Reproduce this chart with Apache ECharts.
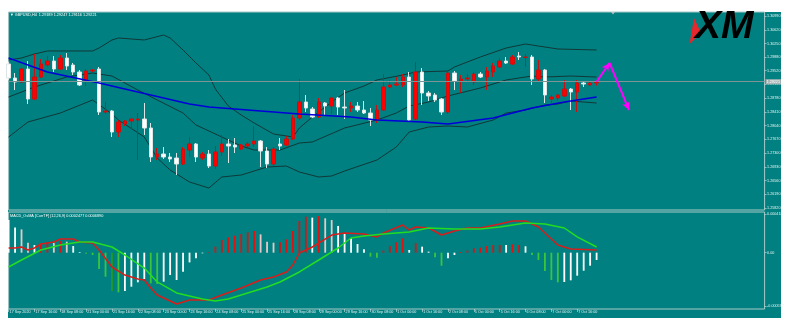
<!DOCTYPE html>
<html><head><meta charset="utf-8">
<script src="https://cdn.jsdelivr.net/npm/echarts@6/dist/echarts.min.js"></script>
<style>html,body{margin:0;padding:0;background:#fff}#c{width:790px;height:330px}</style>
</head><body><div id="c"></div><script>
// ---- categories (H4 bars) ----
const days = ['17 Sep','18 Sep','21 Sep','22 Sep','23 Sep','24 Sep','25 Sep','28 Sep','29 Sep','30 Sep','1 Oct','2 Oct','5 Oct','6 Oct','7 Oct','8 Oct'];
const hours = ['00:00','04:00','08:00','12:00','16:00','20:00'];
const totalSlots = 118;

// ---- candles: [open, close, low, high] ----
const candles = [
[1.29698,1.29320,1.29267,1.29751],[1.29320,1.29213,1.28997,1.29455],[1.29213,1.29563,1.29186,1.29590],[1.29563,1.28755,1.28620,1.29778],
[1.28755,1.29347,1.28728,1.29967],[1.29347,1.29698,1.29320,1.29832],[1.29671,1.29778,1.29617,1.29913],[1.29778,1.29563,1.29482,1.29913],
[1.29563,1.29859,1.29536,1.29940],[1.29859,1.29644,1.29536,1.29994],[1.29671,1.29482,1.29401,1.29725],[1.29482,1.29132,1.29105,1.29536],
[1.29240,1.29509,1.29105,1.29563],[1.29509,1.29536,1.29482,1.29563],[1.29563,1.28405,1.28324,1.29617],[1.28405,1.28432,1.28351,1.28674],
[1.28432,1.27866,1.27732,1.28459],[1.27866,1.28136,1.27732,1.28189],[1.28082,1.28163,1.28028,1.28189],[1.28163,1.28216,1.27947,1.28243],
[1.28189,1.28216,1.27112,1.28378],[1.28216,1.27974,1.27785,1.28647],[1.27974,1.27193,1.27058,1.28109],[1.27193,1.27274,1.27112,1.27435],
[1.27274,1.27193,1.27139,1.27462],[1.27193,1.27139,1.27058,1.27301],[1.27166,1.27004,1.26708,1.27301],[1.27004,1.27408,1.26977,1.27462],
[1.27381,1.27543,1.27193,1.27732],[1.27543,1.27193,1.27058,1.27570],[1.27166,1.27274,1.27112,1.27328],[1.27274,1.26950,1.26897,1.27381],
[1.26950,1.27328,1.26870,1.27489],[1.27328,1.27543,1.27220,1.27785],[1.27543,1.27489,1.27031,1.27678],[1.27516,1.27462,1.27301,1.27705],
[1.27408,1.27516,1.27381,1.27543],[1.27489,1.27543,1.27462,1.27597],[1.27543,1.27624,1.27462,1.28028],[1.27624,1.27355,1.26924,1.27651],
[1.27355,1.27004,1.26897,1.27462],[1.27004,1.27408,1.26950,1.27462],[1.27543,1.27489,1.27381,1.27705],[1.27516,1.27678,1.27489,1.27759],
[1.27678,1.28243,1.27651,1.28324],[1.28243,1.28674,1.28189,1.29294],[1.28674,1.28513,1.28405,1.28863],[1.28486,1.28270,1.28243,1.28539],
[1.28270,1.28674,1.28243,1.28782],[1.28647,1.28566,1.28324,1.28674],[1.28566,1.28782,1.28351,1.28809],[1.28782,1.28539,1.28324,1.28809],
[1.28539,1.28513,1.28216,1.28997],[1.28513,1.28566,1.28405,1.28674],[1.28566,1.28459,1.28405,1.28674],[1.28459,1.28378,1.28351,1.28701],
[1.28378,1.28189,1.28028,1.28513],[1.28189,1.28459,1.28109,1.28593],[1.28459,1.29078,1.28432,1.29428],[1.29078,1.29132,1.29051,1.29267],
[1.29132,1.29159,1.29105,1.29347],[1.29132,1.29347,1.29078,1.29428],[1.29347,1.28189,1.28136,1.29482],[1.28216,1.29482,1.28189,1.29751],
[1.29482,1.28917,1.28593,1.29590],[1.28917,1.28836,1.28701,1.28970],[1.28863,1.28728,1.28674,1.28917],[1.28755,1.28405,1.28324,1.28782],
[1.28405,1.29455,1.28351,1.29482],[1.29455,1.29240,1.28997,1.29509],[1.29240,1.29294,1.28917,1.29401],[1.29294,1.29320,1.29240,1.29428],
[1.29213,1.29428,1.29132,1.29482],[1.29428,1.29347,1.29320,1.29482],[1.29347,1.29509,1.28997,1.29617],[1.29482,1.29644,1.29347,1.29725],
[1.29617,1.29778,1.29590,1.29859],[1.29778,1.29725,1.29698,1.29886],[1.29698,1.29886,1.29671,1.29940],[1.29913,1.29886,1.29805,1.30021],
[1.29872,1.29886,1.29617,1.29967],[1.29886,1.29294,1.29132,1.29940],[1.29294,1.29536,1.29213,1.29805],[1.29536,1.28863,1.28647,1.29563],
[1.28755,1.28809,1.28647,1.28863],[1.28782,1.28863,1.28701,1.28890],[1.28836,1.29024,1.28809,1.29267],[1.29024,1.28944,1.28459,1.29051],
[1.28944,1.29186,1.28405,1.29267],[1.29186,1.29159,1.29078,1.29240],[1.29132,1.29186,1.29105,1.29240],[1.29189,1.29221,1.29116,1.29247]
];

// ---- Bollinger bands & MA: [barIndex, price] ----
const bbUpper = [[0,1.29805],[2,1.29859],[4,1.29967],[6,1.30048],[9,1.30048],[13,1.30048],[14,1.30128],[16,1.30344],[17,1.30398],[21,1.30344],[24,1.30479],[25,1.30398],[27,1.30075],[29,1.29725],[31,1.29401],[32,1.29024],[34,1.28566],[36,1.28324],[38,1.28109],[41,1.27812],[44,1.27732],[45,1.27974],[47,1.28270],[50,1.28674],[52,1.28917],[55,1.29105],[57,1.29267],[61,1.29401],[63,1.29482],[68,1.29509],[69,1.29617],[73,1.29886],[77,1.30128],[80,1.30236],[82,1.30182],[85,1.30102],[91,1.30075]];
const bbMiddle = [[0,1.28809],[4,1.29078],[9,1.29347],[13,1.29455],[16,1.29374],[20,1.28997],[23,1.28728],[27,1.28378],[29,1.28055],[33,1.27732],[36,1.27489],[38,1.27381],[42,1.27381],[45,1.27570],[47,1.27597],[52,1.27974],[57,1.28189],[60,1.28378],[62,1.28566],[65,1.28674],[68,1.28836],[73,1.29051],[77,1.29267],[81,1.29374],[83,1.29347],[87,1.29374],[91,1.29347]];
const bbLower = [[0,1.27732],[3,1.28136],[8,1.28378],[13,1.28728],[16,1.28351],[17,1.28189],[21,1.27732],[23,1.27166],[25,1.26843],[28,1.26520],[31,1.26358],[33,1.26655],[36,1.26708],[40,1.26924],[43,1.26950],[45,1.26789],[48,1.26655],[50,1.26682],[52,1.26816],[57,1.27112],[60,1.27462],[62,1.27866],[65,1.28001],[68,1.28028],[71,1.28001],[75,1.28189],[77,1.28378],[80,1.28459],[83,1.28593],[85,1.28620],[87,1.28701],[91,1.28647]];
const maBlue = [[0,1.29859],[6,1.29482],[14,1.29186],[22,1.28863],[28,1.28620],[31,1.28539],[37,1.28459],[45,1.28351],[53,1.28270],[57,1.28189],[64,1.28136],[68,1.28082],[75,1.28243],[81,1.28513],[86,1.28674],[91,1.28809]];

// ---- MACD / OsMA ----
const osma = [0.000354,0.000271,0.000252,0.000108,0.000083,0.000090,0.000108,0.000108,0.000126,0.000119,0.000072,0.000007,-0.000011,-0.000025,-0.000177,-0.000260,-0.000415,-0.000429,-0.000415,-0.000368,-0.000321,-0.000285,-0.000332,-0.000339,-0.000314,-0.000242,-0.000296,-0.000206,-0.000105,-0.000061,-0.000007,0.000004,0.000065,0.000137,0.000166,0.000184,0.000202,0.000220,0.000234,0.000198,0.000119,0.000108,0.000112,0.000144,0.000234,0.000343,0.000390,0.000379,0.000397,0.000372,0.000353,0.000289,0.000209,0.000155,0.000094,0.000036,-0.000043,-0.000054,0.000022,0.000072,0.000112,0.000155,0.000029,0.000101,0.000065,0.000011,-0.000050,-0.000141,-0.000061,-0.000025,0.000007,0.000022,0.000047,0.000054,0.000072,0.000083,0.000083,0.000083,0.000090,0.000083,0.000069,-0.000025,-0.000079,-0.000198,-0.000296,-0.000321,-0.000317,-0.000299,-0.000249,-0.000195,-0.000141,-0.000079];
const osmaColorKeys = 'wwppwrrprpww' + 'ggggdg' + 'wwww' + 'gg' + 'wwwwwww' + 'rrrrrrrr' + 'ppp' + 'rrrrr' + 'w' + 'r' + 'pp' + 'wwwww' + 'gg' + 'rrrr' + 'w' + 'r' + 'ww' + 'gg' + 'ww' + 'rrrrrrr' + 'w' + 'rr' + 'w' + 'ggggg' + 'wwwwww';
const macdRed = [[0,0.0000505],[1,0.0000505],[2,0.0000613],[3,0.0000289],[4,0.0000505],[5,0.0000938],[7,0.0001155],[8,0.0001479],[10,0.0001479],[11,0.0001155],[13,0.0001046],[14,0.0000289],[16,-0.000155],[18,-0.000242],[20,-0.000285],[21,-0.000296],[22,-0.000382],[23,-0.000458],[26,-0.000555],[28,-0.000512],[31,-0.000512],[33,-0.000458],[36,-0.000382],[39,-0.000296],[41,-0.000263],[43,-0.000209],[44,-0.000133],[45,-0.0000036],[47,0.0000613],[50,0.000191],[52,0.000213],[55,0.000202],[57,0.000170],[58,0.000213],[61,0.000299],[62,0.000245],[63,0.000278],[65,0.000267],[67,0.000191],[69,0.000235],[71,0.000267],[73,0.000267],[76,0.000310],[78,0.000343],[80,0.000343],[82,0.000278],[83,0.000213],[85,0.000083],[87,0.0000397],[91,0.0000289]];
const macdGreen = [[0,-0.000155],[2,-0.0000793],[5,0.0000289],[8,0.000083],[11,0.0001155],[13,0.0001155],[16,0.0000613],[18,-0.0000252],[21,-0.000166],[23,-0.000317],[26,-0.000436],[30,-0.000501],[32,-0.000523],[34,-0.000501],[37,-0.000436],[40,-0.000372],[42,-0.000317],[45,-0.000209],[48,-0.0000793],[51,0.0000505],[53,0.000159],[55,0.000180],[58,0.000202],[62,0.000224],[65,0.000267],[69,0.000256],[73,0.000256],[76,0.000278],[80,0.000321],[83,0.000310],[86,0.000267],[88,0.000170],[91,0.0000613]];

// ---- axis ticks ----
const priceTicks = [1.25820,1.26190,1.26560,1.26930,1.27300,1.27670,1.28040,1.28410,1.28780,1.29150,1.29520,1.29880,1.30250,1.30620,1.30990];
const priceMin = 1.25766, priceMax = 1.31098;
const macdMin = -0.00060952, macdMax = 0.00044007;
const macdTicks = [0.000418, 0, -0.000577];
const macdTickLabels = ['0.000418', '0.00', '-0.000577'];
const lastPrice = 1.29221;
// projection arrows: [barIndex, price]
const arrowPts = [[91, 1.29221], [93, 1.29725], [96, 1.28459]];

// build categories
const cats = [];
for (const d of days) for (const h of hours) cats.push(d + ' ' + h);
cats.length = candles.length;
cats[0] = '17 Sep 2020';
while (cats.length < totalSlots) cats.push('');
const dateTickShown = (idx, val) => idx % 4 === 0 && val !== '';

const colorMap = {w:'#ffffff', p:'#ecc6c6', r:'#e01212', g:'#3cc43c', d:'#239a23'};
const osmaData = osma.map((v, i) => ({value: v, itemStyle: {color: colorMap[osmaColorKeys[i]] || '#ffffff'}}));

const FONT = '"Liberation Sans", Arial, sans-serif';
const txtColor = '#e4f0f0';
const borderCol = '#a9c9c9';

const chart = echarts.init(document.getElementById('c'), null, {renderer: 'canvas'});
const option = {
  animation: false,
  backgroundColor: '#ffffff',
  textStyle: {fontFamily: FONT},
  graphic: {elements: [
    {type: 'rect', z: -100, silent: true, shape: {x: 8, y: 12, width: 773, height: 306}, style: {fill: '#008080'}},
    {type: 'text', z: 100, x: 10, y: 13.2, style: {text: '\u25BC GBPUSD,H4  1.29189 1.29247 1.29116 1.29221', fill: '#ffffff', font: '3.8px ' + FONT}},
    {type: 'text', z: 100, x: 10, y: 213.5, style: {text: 'MACD_OsMA [CurrTF] (12,26,9) 0.0002477 0.0006890', fill: '#ffffff', font: '3.8px ' + FONT}},
    {type: 'polygon', z: 100, shape: {points: [[694, 18], [689.5, 44], [701, 33]]}, style: {fill: '#e8262b'}},
    {type: 'text', z: 100, x: 695, y: 46.5, style: {text: 'XM', fill: '#000000', font: 'italic 900 39px ' + FONT, textVerticalAlign: 'bottom'}},
    {type: 'polygon', z: 100, shape: {points: [[611, 12], [615, 12], [613, 14.5]]}, style: {fill: '#c0c0c0'}}
  ]},
  grid: [
    {left: 8.6, top: 12, width: 756, height: 198, show: true, borderColor: borderCol, borderWidth: 1, backgroundColor: 'transparent', outerBoundsMode: 'none', containLabel: false},
    {left: 8.6, top: 212, width: 756, height: 97, show: true, borderColor: borderCol, borderWidth: 1, backgroundColor: 'transparent', outerBoundsMode: 'none', containLabel: false}
  ],
  xAxis: [
    {type: 'category', gridIndex: 0, data: cats, boundaryGap: false, axisLine: {show: false, onZero: false}, axisTick: {show: false}, axisLabel: {show: false}, splitLine: {show: false}},
    {type: 'category', gridIndex: 1, data: cats, boundaryGap: false, position: 'bottom', axisLine: {show: false, onZero: false},
     axisTick: {show: true, interval: dateTickShown, length: 3, lineStyle: {color: '#d0e4e4', width: 0.6}},
     axisLabel: {interval: dateTickShown, align: 'left', margin: 1.2, fontSize: 3.7, color: txtColor, fontFamily: FONT, padding: [0, 0, 0, 1]},
     splitLine: {show: false}}
  ],
  yAxis: [
    {type: 'value', gridIndex: 0, position: 'right', min: priceMin, max: priceMax,
     splitLine: {show: false}, axisLine: {show: false},
     axisTick: {show: true, length: 2, customValues: priceTicks, lineStyle: {color: '#d0e4e4', width: 0.6}},
     axisLabel: {customValues: priceTicks, fontSize: 3.7, color: txtColor, margin: 2.5, fontFamily: FONT, formatter: v => v.toFixed(5)}},
    {type: 'value', gridIndex: 1, position: 'right', min: macdMin, max: macdMax,
     splitLine: {show: false}, axisLine: {show: false},
     axisTick: {show: true, length: 2, customValues: macdTicks, lineStyle: {color: '#d0e4e4', width: 0.6}},
     axisLabel: {customValues: macdTicks, fontSize: 3.7, color: txtColor, margin: 2.5, fontFamily: FONT,
       formatter: v => { const k = macdTicks.findIndex(t => Math.abs(t - v) < 1e-9); return k >= 0 ? macdTickLabels[k] : ''; }}}
  ],
  series: [
    {type: 'line', name: 'bbUpper', xAxisIndex: 0, yAxisIndex: 0, data: bbUpper, symbol: 'none', z: 2, lineStyle: {color: '#113838', width: 1},
     markLine: {silent: true, symbol: 'none', animation: false, precision: 5, data: [{yAxis: lastPrice}],
       lineStyle: {color: '#7f9494', width: 1, type: 'solid'},
       label: {show: true, position: 'end', distance: 1, formatter: lastPrice.toFixed(5), fontSize: 3.7, color: '#ffffff', backgroundColor: '#a9b5b5', padding: [0.5, 1], fontFamily: FONT}}},
    {type: 'line', name: 'bbMiddle', xAxisIndex: 0, yAxisIndex: 0, data: bbMiddle, symbol: 'none', z: 2, lineStyle: {color: '#113838', width: 1}},
    {type: 'line', name: 'bbLower', xAxisIndex: 0, yAxisIndex: 0, data: bbLower, symbol: 'none', z: 2, lineStyle: {color: '#113838', width: 1}},
    {type: 'candlestick', xAxisIndex: 0, yAxisIndex: 0, data: candles, barWidth: 4, z: 3,
     itemStyle: {color: '#ff0000', color0: '#ffffff', borderColor: '#c81010', borderColor0: '#dde6e6', borderWidth: 1}},
    {type: 'line', name: 'ma', xAxisIndex: 0, yAxisIndex: 0, data: maBlue, symbol: 'none', z: 4, lineStyle: {color: '#0000d8', width: 1.5},
     markLine: {silent: true, animation: false, precision: 5, symbol: ['none', 'arrow'], symbolSize: [6, 8],
       lineStyle: {color: '#ff00ff', width: 2, type: 'solid'}, label: {show: false},
       data: [
         [{coord: arrowPts[0]}, {coord: arrowPts[1]}],
         [{coord: arrowPts[1]}, {coord: arrowPts[2]}]
       ]}},
    {type: 'bar', xAxisIndex: 1, yAxisIndex: 1, data: osmaData, barWidth: 1.8, z: 2},
    {type: 'line', xAxisIndex: 1, yAxisIndex: 1, data: macdRed, symbol: 'none', z: 3, lineStyle: {color: '#d91c1c', width: 1.5}},
    {type: 'line', xAxisIndex: 1, yAxisIndex: 1, data: macdGreen, symbol: 'none', z: 3, lineStyle: {color: '#22dd22', width: 1.5}}
  ]
};
chart.setOption(option);
</script></body></html>
